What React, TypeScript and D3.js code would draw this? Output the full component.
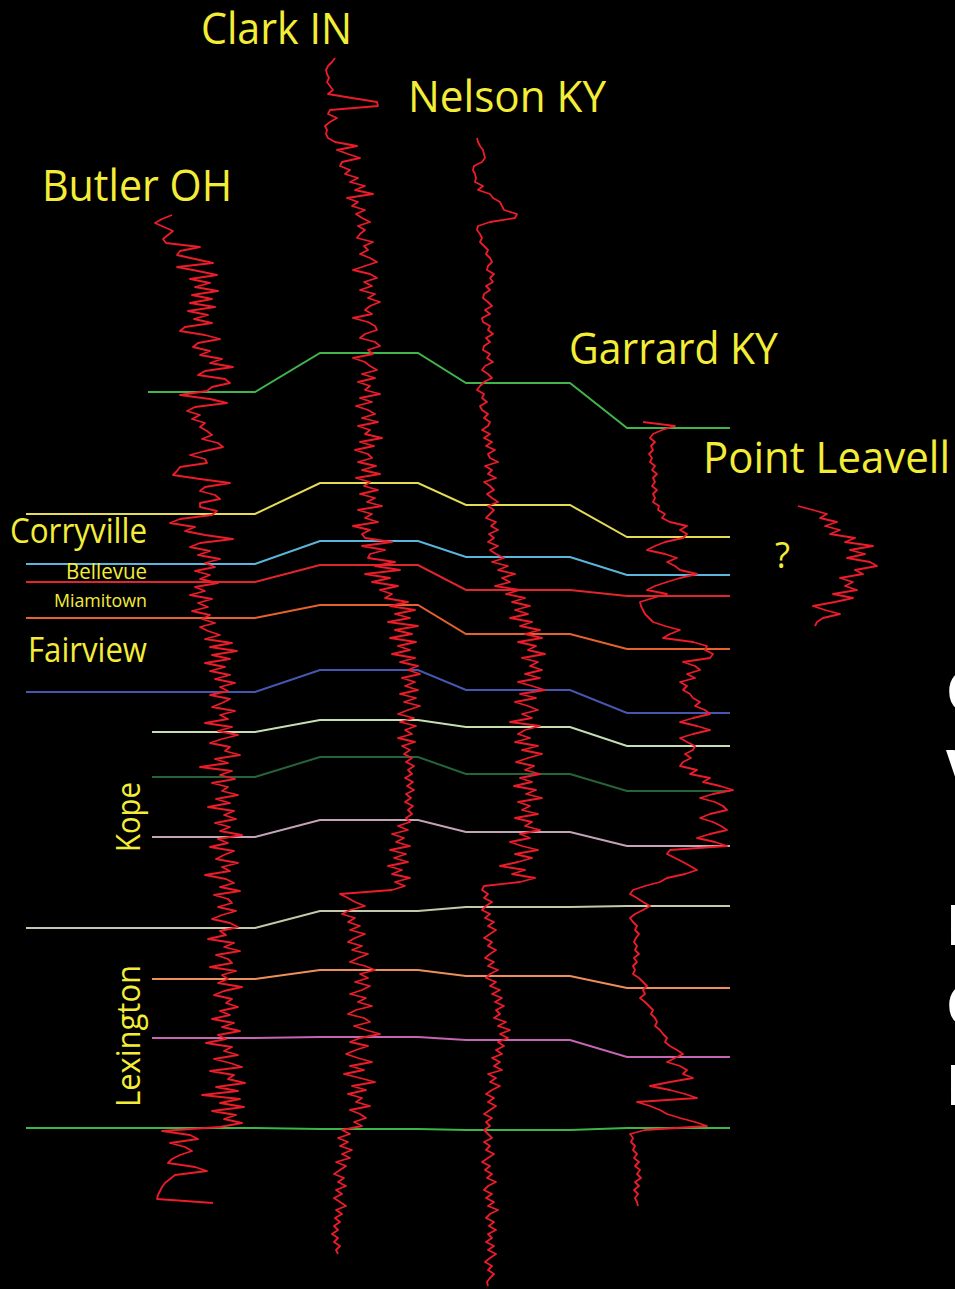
import * as d3 from "d3";
import React, { useEffect, useRef } from "react";

const W = 955;
const H = 1289;

// Wells along the section, west to east.
const wellNames = ["Butler OH", "Clark IN", "Nelson KY", "Garrard KY", "Point Leavell"];

// Gamma-ray logs (API-ish units), one sample every 2 ft from the top of each log.
const logStep = 2;
const logTops = [107.5, 29, 69, 211, 253]; // ft

const butlerLog = [
  22, 12, 5, 14, 23, 18, 13, 16, 50, 30, 27, 45, 63, 27, 48, 67, 40, 60, 45, 68, 42, 62, 40, 65, 38,
  58, 44, 62, 35, 30, 55, 70, 48, 43, 60, 50, 72, 60, 83, 55, 48, 75, 80, 62, 57, 30, 60, 77, 45, 37,
  50, 42, 55, 50, 57, 62, 52, 68, 73, 55, 40, 55, 57, 30, 27, 23, 50, 80, 55, 50, 65, 70, 50, 50, 67,
  62, 30, 20, 45, 35, 55, 83, 50, 40, 60, 48, 70, 55, 65, 45, 60, 50, 68, 45, 55, 40, 62, 48, 58, 42,
  60, 52, 65, 50, 58, 70, 55, 82, 60, 87, 62, 80, 55, 75, 60, 80, 65, 85, 70, 78, 60, 80, 72, 62, 85,
  70, 78, 55, 82, 68, 88, 72, 60, 80, 75, 90, 65, 78, 50, 82, 70, 85, 62, 78, 72, 88, 66, 80, 58, 84,
  74, 86, 65, 80, 70, 92, 68, 78, 60, 84, 74, 66, 88, 72, 80, 55, 76, 84, 70, 90, 64, 78, 82, 68, 86,
  72, 62, 80, 88, 70, 76, 58, 84, 74, 90, 66, 78, 82, 60, 86, 72, 78, 68, 92, 74, 64, 82, 76, 88, 70,
  80, 62, 84, 72, 90, 68, 76, 56, 82, 74, 88, 64, 80, 92, 60, 84, 78, 95, 66, 88, 52, 90, 70, 94, 62,
  86, 74, 92, 70, 12, 40, 48, 20, 35, 42, 30, 22, 18, 45, 57, 25, 20, 15, 12, 10, 8, 7, 63,
];

const clarkLog = [
  15, 12, 8, 6, 7, 9, 7, 10, 13, 8, 32, 57, 58, 10, 8, 17, 10, 5, 7, 6, 8, 15, 37, 17, 28,
  40, 22, 20, 30, 25, 38, 30, 45, 35, 53, 27, 38, 32, 45, 36, 42, 50, 38, 45, 40, 37, 53, 44, 48, 40,
  50, 57, 45, 33, 50, 57, 44, 52, 40, 55, 48, 60, 50, 45, 52, 33, 48, 55, 57, 45, 40, 55, 60, 48, 53,
  33, 45, 50, 57, 42, 55, 38, 50, 45, 60, 40, 52, 36, 48, 55, 42, 58, 38, 50, 45, 62, 40, 54, 35, 48,
  52, 38, 56, 42, 60, 36, 50, 44, 58, 40, 55, 47, 62, 38, 52, 45, 58, 33, 50, 42, 45, 72, 42, 65, 50,
  48, 75, 55, 80, 45, 70, 52, 78, 60, 72, 65, 88, 70, 95, 75, 90, 68, 98, 75, 92, 70, 96, 78, 90, 72,
  95, 80, 98, 88, 100, 82, 95, 85, 98, 80, 96, 84, 100, 88, 78, 94, 80, 96, 85, 92, 78, 95, 82, 90, 84,
  92, 86, 94, 88, 92, 85, 93, 87, 94, 86, 91, 85, 93, 88, 92, 86, 90, 78, 88, 72, 84, 76, 90, 70, 86,
  74, 88, 68, 82, 72, 90, 75, 85, 72, 20, 28, 35, 45, 30, 22, 35, 28, 40, 30, 45, 35, 28, 42, 32, 48,
  38, 30, 45, 55, 40, 48, 35, 50, 42, 30, 46, 38, 52, 36, 28, 44, 50, 34, 46, 60, 40, 30, 48, 36, 26,
  38, 52, 30, 44, 24, 40, 55, 32, 46, 28, 42, 36, 50, 30, 40, 46, 34, 42, 22, 30, 18, 28, 20, 32, 22,
  30, 16, 26, 20, 14, 24, 18, 26, 16, 22, 14, 20, 26, 16, 22, 15, 20, 14, 18, 12, 18, 14, 20, 16, 18,
];

const nelsonLog = [
  7, 8, 10, 13, 14, 15, 12, 4, 3, 5, 6, 5, 13, 8, 20, 23, 30, 32, 34, 47, 45, 20, 8, 7, 10,
  12, 10, 14, 18, 16, 20, 22, 18, 17, 24, 20, 23, 16, 20, 14, 13, 18, 22, 15, 20, 12, 13, 20, 18, 23,
  16, 20, 14, 13, 20, 17, 23, 15, 12, 18, 22, 14, 10, 7, 14, 12, 17, 10, 12, 18, 14, 20, 18, 12, 20,
  14, 22, 16, 25, 18, 20, 28, 15, 22, 18, 26, 14, 20, 24, 17, 22, 28, 18, 24, 20, 16, 26, 21, 28, 19,
  24, 18, 28, 20, 26, 34, 22, 38, 28, 45, 32, 40, 25, 50, 36, 55, 42, 60, 45, 58, 40, 62, 50, 70, 55,
  72, 48, 66, 58, 75, 52, 68, 60, 72, 55, 70, 48, 62, 75, 50, 66, 45, 58, 68, 52, 62, 40, 70, 55, 48,
  60, 45, 68, 52, 72, 58, 46, 64, 55, 70, 50, 62, 44, 66, 56, 72, 48, 60, 52, 68, 45, 62, 55, 70, 50,
  60, 40, 52, 68, 45, 62, 48, 30, 55, 42, 65, 50, 14, 12, 18, 14, 22, 16, 12, 20, 15, 24, 18, 26, 20,
  14, 22, 18, 26, 20, 15, 24, 18, 28, 20, 16, 26, 20, 30, 22, 32, 25, 34, 26, 30, 24, 36, 28, 40, 30,
  38, 28, 34, 26, 32, 22, 30, 24, 32, 18, 26, 20, 30, 22, 16, 24, 18, 26, 20, 14, 22, 16, 20, 14, 18,
  22, 14, 20, 16, 24, 18, 12, 20, 15, 22, 17, 26, 18, 14, 22, 16, 24, 18, 28, 20, 16, 24, 19, 26, 18,
  22, 16, 24, 18, 26, 20, 15, 22, 18, 24, 20, 17, 18,
];

const garrardLog = [
  18, 50, 37, 28, 25, 30, 26, 28, 24, 27, 25, 30, 27, 32, 28, 30, 27, 32, 28, 30, 28, 34, 33, 40, 37,
  45, 62, 55, 62, 58, 40, 30, 22, 40, 52, 42, 50, 55, 72, 55, 42, 30, 22, 42, 28, 15, 16, 18, 20, 24,
  28, 40, 55, 45, 38, 68, 82, 80, 88, 85, 58, 70, 75, 62, 70, 55, 62, 58, 65, 68, 75, 70, 80, 85, 68,
  55, 72, 85, 68, 55, 62, 70, 68, 60, 66, 58, 55, 72, 65, 85, 78, 95, 108, 88, 75, 90, 98, 102, 85, 75,
  88, 96, 102, 85, 72, 90, 102, 45, 42, 50, 58, 65, 72, 60, 42, 35, 20, 8, 5, 12, 18, 25, 18, 10, 5,
  8, 12, 10, 14, 11, 9, 12, 10, 14, 9, 12, 8, 10, 8, 14, 18, 22, 18, 20, 15, 20, 24, 28, 26, 30,
  32, 30, 35, 38, 42, 40, 45, 52, 58, 50, 42, 55, 62, 58, 68, 45, 25, 45, 60, 72, 12, 25, 35, 42, 55,
  70, 82, 20, 5, 8, 6, 10, 8, 12, 9, 14, 10, 15, 12, 16, 10, 14, 9, 13, 10, 12, 13,
];

const pointLeavellLog = [
  3, 18, 32, 25, 42, 30, 45, 35, 60, 50, 78, 55, 70, 52, 75, 82, 60, 68, 45, 58, 50, 62, 38, 58, 40,
  18, 30, 45, 28, 22, 20,
];

const logs = [butlerLog, clarkLog, nelsonLog, garrardLog, pointLeavellLog];

// Correlated horizons: depth (ft) at Butler, Clark, Nelson, Garrard.
const horizonDepths = [
  [196, 176.5, 191.5, 214],
  [257, 241.5, 252.5, 268.5],
  [282, 270.5, 278.5, 287.5],
  [291, 282.5, 295, 298],
  [309, 302.5, 317, 324.5],
  [346, 335, 345, 356.5],
  [366, 360, 363.5, 373],
  [388.5, 378.5, 387, 395.5],
  [418.5, 410, 416, 423],
  [464, 455.5, 453.5, 453],
  [489.5, 485, 488, 494],
  [519, 518.5, 520, 528.5],
  [564, 564.5, 565, 564],
];

// formation names on the left
const unitNames = ["Corryville", "Bellevue", "Miamitown", "Fairview", "Kope", "Lexington"];

// ---- styles / layout ----
const horizonColors = [
  "#3fb54c", "#e4dc55", "#5cb6dc", "#e0262c", "#e7622c", "#4757b0", "#c6dfb2",
  "#25653a", "#c5a3b6", "#c7c8aa", "#ee8f5c", "#c565b4", "#3cb64a",
];
const horizonLongStart = [false, true, true, true, true, true, false, false, false, true, false, false, true];
const wellX0 = [150, 320, 470, 625, 795];
const columns = [[0, 255], [320, 418], [466, 570], [627, 730]];
const YEL = "#f4ed37";
const FONT = "'Open Sans', 'DejaVu Sans', sans-serif";

export default function App() {
  const ref = useRef<SVGSVGElement>(null);

  useEffect(() => {
    const svg = d3.select(ref.current);
    svg.selectAll("*").remove();

    svg.append("rect").attr("width", W).attr("height", H).attr("fill", "#000");

    const depth = d3.scaleLinear([0, 644.5], [0, H]);
    const line = d3
      .line<[number, number]>()
      .x((d) => d[0])
      .y((d) => depth(d[1]));

    // horizons
    const gH = svg.append("g").attr("fill", "none").attr("stroke-width", 2);
    horizonDepths.forEach((dd, i) => {
      const pts: [number, number][] = [];
      pts.push([horizonLongStart[i] ? 26 : i === 0 ? 148 : 152, dd[0]]);
      pts.push([columns[0][1], dd[0]]);
      for (let w = 1; w < 4; w++) {
        pts.push([columns[w][0], dd[w]]);
        pts.push([columns[w][1], dd[w]]);
      }
      gH.append("path").attr("d", line(pts)).attr("stroke", horizonColors[i]);
    });

    // logs
    const gL = svg
      .append("g")
      .attr("fill", "none")
      .attr("stroke", "#ec1c2a")
      .attr("stroke-width", 1.8)
      .attr("stroke-linejoin", "round");
    logs.forEach((vals, w) => {
      const gamma = d3.scaleLinear([0, 100], [wellX0[w], wellX0[w] + 100]);
      const pts: [number, number][] = vals.map((v, k) => [gamma(v), logTops[w] + k * logStep]);
      gL.append("path").attr("d", line(pts));
    });

    const label = (t: string, x: number, y: number, size: number, len: number, rot = false) => {
      const el = svg
        .append("text")
        .attr("font-family", FONT)
        .attr("font-size", size)
        .attr("fill", YEL)
        .attr("textLength", len)
        .attr("lengthAdjust", "spacingAndGlyphs")
        .text(t);
      if (rot) el.attr("transform", `translate(${x},${y}) rotate(-90)`);
      else el.attr("x", x).attr("y", y);
      return el;
    };

    // well names
    label(wellNames[1], 201, 44, 43, 151);
    label(wellNames[2], 408, 112, 43, 198);
    label(wellNames[0], 42, 201, 43, 190);
    label(wellNames[3], 569, 364, 43, 209);
    label(wellNames[4], 703, 473, 43, 247);
    label("?", 775, 568, 36, 15);

    // units
    label(unitNames[0], 10, 543, 35, 137);
    label(unitNames[1], 66, 579, 21, 81);
    label(unitNames[2], 54, 607, 18, 93);
    label(unitNames[3], 28, 662, 35, 119);
    label(unitNames[4], 140, 852, 32, 70, true);
    label(unitNames[5], 140, 1107, 32, 142, true);

    // cut-off slide text at the right edge
    const edge = ["C", "V", "P", "C", "P"];
    const edgeY = [711, 790, 945, 1025, 1105];
    edge.forEach((t, i) =>
      svg
        .append("text")
        .attr("x", 946)
        .attr("y", edgeY[i])
        .attr("font-family", FONT)
        .attr("font-weight", 700)
        .attr("font-size", 56)
        .attr("fill", "#fff")
        .text(t)
    );
  }, []);

  return (
    <svg
      ref={ref}
      width={W}
      height={H}
      style={{ position: "absolute", left: 0, top: 0, display: "block" }}
    />
  );
}
